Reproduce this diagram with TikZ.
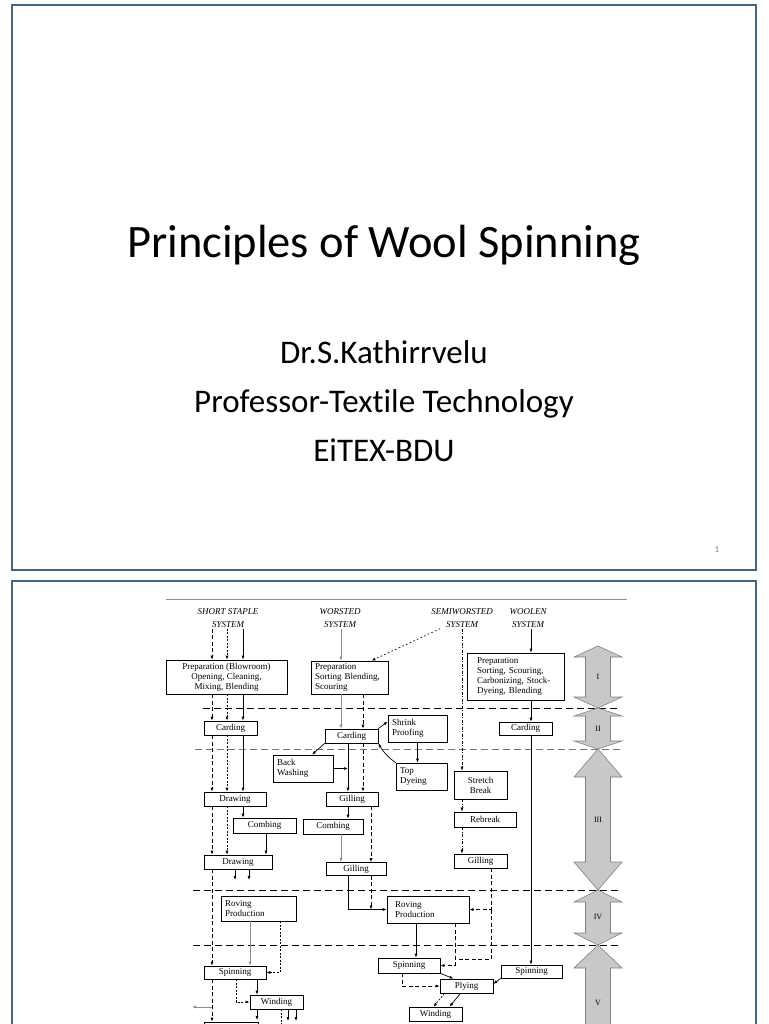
\documentclass[tikz,border=0pt]{standalone}
\usepackage{fontspec}
\setmainfont{Carlito}[Ligatures=NoCommon]
\newfontfamily\dfont{Liberation Serif}
\usepackage{xcolor}
\usepackage{tikz}
\usetikzlibrary{arrows.meta, positioning, calc}

\definecolor{slideframe}{RGB}{66,98,138}
\definecolor{phasefill}{RGB}{200,200,200}

\tikzset{
  box/.style={draw, fill=white, line width=0.7pt, inner xsep=4pt, inner ysep=1pt,
    font=\dfont\fontsize{9}{10}\selectfont},
  lbox/.style={box, align=left, text width=#1},
  hdr/.style={inner sep=1pt, align=center, font=\dfont\itshape\fontsize{9}{13}\selectfont},
  flow/.style={-{Latex[length=4pt,width=3pt]}, line width=0.7pt},
  dsh/.style={dash pattern=on 4pt off 2.5pt},
  fdsh/.style={dash pattern=on 2pt off 1.5pt},
  ddot/.style={dash pattern=on 3pt off 1.5pt on 1pt off 1.5pt},
  dts/.style={dash pattern=on 1.5pt off 2.5pt},
  gline/.style={draw=black!45},
  phasearrow/.style={fill=phasefill, draw=black!50, line width=0.6pt},
}

\begin{document}
\begin{tikzpicture}[x=1pt, y=-1pt]
  \useasboundingbox (0,0) rectangle (768,1024);
  \clip (0,0) rectangle (768,1024);

  % Title slide
  \draw[slideframe, line width=2pt] (12,5) rectangle (756,570);
  \node[anchor=base, font=\fontsize{46.5}{50}\selectfont] (title) at (384,258) {Principles of Wool Spinning};
  \node[anchor=base, font=\fontsize{33}{36}\selectfont] (author) at (384,363) {Dr.S.Kathirrvelu};
  \node[anchor=base, font=\fontsize{33}{36}\selectfont] (post) at (384,412) {Professor-Textile Technology};
  \node[anchor=base, font=\fontsize{33}{36}\selectfont] (inst) at (384,461) {EiTEX-BDU};
  \node[anchor=base, text=black!50, font=\fontsize{9}{10}\selectfont] (pgno) at (717,552) {1};

  % Flow chart slide
  \draw[slideframe, line width=2pt] (12,581) rectangle (756,1060);
  \draw[black!45, line width=0.8pt] (166,599) -- (627,599);

  % lanes and loose ends
  \foreach \x in {212,227,243,236,250,257,266,280,281,288,296,341,348,363,371,402,416,455,462,491,531}
    \coordinate (x\x) at (\x,0);
  \coordinate (outA) at (235,880);
  \coordinate (outB) at (249,880);
  \coordinate (outC) at (192,1007);
  \coordinate (outD) at (257,1020);
  \coordinate (outE) at (281,1030);
  \coordinate (outF) at (288,1021);
  \coordinate (outG) at (296,1021);
  \coordinate (jn) at (491,959);

  % stage boundaries
  \foreach \y/\xs/\col in {708/203/black, 749/195/black!55, 890/193/black, 945/193/black}
    \draw[\col, line width=0.7pt, dash pattern=on 7pt off 4pt] (\xs,\y) -- (620,\y);

  % stage arrows
  \foreach \t/\b/\h/\lab/\ly in {646/708/11/I/677, 708/749/8/II/729, 749/890/28/III/820, 890/945/12/IV/917, 945/1100/23/V/1003} {
    \draw[phasearrow] (598,\t) -- (622,\t+\h) -- (610.5,\t+\h) -- (610.5,\b-\h) -- (622,\b-\h)
      -- (598,\b) -- (574,\b-\h) -- (585.5,\b-\h) -- (585.5,\t+\h) -- (574,\t+\h) -- cycle;
    \node[font=\dfont\fontsize{8}{9}\selectfont] (ph\lab) at (598,\ly) {\lab};
  }

  % system headings
  \node[hdr] (hSS) at (228,618) {SHORT STAPLE\\SYSTEM};
  \node[hdr] (hW) at (340,618) {WORSTED\\SYSTEM};
  \node[hdr] (hSW) at (462,618) {SEMIWORSTED\\SYSTEM};
  \node[hdr] (hWo) at (528,618) {WOOLEN\\SYSTEM};

  % boxes
  \node[box, align=center, minimum width=121pt, minimum height=34pt] (prepSS) at (226.5,677)
    {Preparation (Blowroom)\\Opening, Cleaning,\\Mixing, Blending};
  \node[lbox=69pt, minimum width=77pt, minimum height=33pt] (prepW) at (349.5,677.5)
    {Preparation\\Sorting Blending,\\Scouring};
  \node[lbox=77pt, minimum width=97pt, minimum height=47pt] (prepWo) at (515.5,676.5)
    {Preparation\\Sorting, Scouring,\\Carbonizing, Stock-\\Dyeing, Blending};
  \node[box, minimum width=53pt, minimum height=14pt] (cardSS) at (230.5,728) {Carding};
  \node[box, minimum width=53pt, minimum height=14pt] (cardW) at (351.5,736) {Carding};
  \node[box, minimum width=53pt, minimum height=13pt] (cardWo) at (525.5,728.5) {Carding};
  \node[lbox=51pt, minimum width=59pt, minimum height=27pt] (shrink) at (417.5,728.5) {Shrink\\Proofing};
  \node[lbox=43pt, minimum width=51pt, minimum height=27pt] (topdye) at (421.5,776.5) {Top\\Dyeing};
  \node[lbox=52pt, minimum width=60pt, minimum height=27pt] (backwash) at (303,768.5) {Back\\Washing};
  \node[box, minimum width=62pt, minimum height=14pt] (drawSS1) at (235,799) {Drawing};
  \node[box, minimum width=52pt, minimum height=14pt] (gillW1) at (352,799) {Gilling};
  \node[box, minimum width=63pt, minimum height=15pt] (combSS) at (264.5,825.5) {Combing};
  \node[box, minimum width=60pt, minimum height=15pt] (combW) at (333,826.5) {Combing};
  \node[box, align=center, minimum width=53pt, minimum height=28pt] (stretch) at (480.5,785) {Stretch\\Break};
  \node[box, minimum width=62pt, minimum height=15pt] (rebreak) at (485,819.5) {Rebreak};
  \node[box, minimum width=68pt, minimum height=14pt] (drawSS2) at (238,862) {Drawing};
  \node[box, minimum width=60pt, minimum height=13pt] (gillW2) at (356,869) {Gilling};
  \node[box, minimum width=53pt, minimum height=14pt] (gillS) at (480.5,861) {Gilling};
  \node[lbox=67pt, minimum width=75pt, minimum height=25pt] (rovSS) at (258.5,908.5) {Roving\\Production};
  \node[lbox=66pt, inner xsep=8pt, minimum width=82pt, minimum height=27pt] (rovW) at (428,909.5) {Roving\\Production};
  \node[box, minimum width=62pt, minimum height=13pt] (spinSS) at (235,972.5) {Spinning};
  \node[box, minimum width=62pt, minimum height=15pt] (spinW) at (409,965.5) {Spinning};
  \node[box, minimum width=61pt, minimum height=13pt] (spinWo) at (531.5,971.5) {Spinning};
  \node[box, minimum width=53pt, minimum height=14pt] (plying) at (466.5,986) {Plying};
  \node[box, minimum width=53pt, minimum height=14pt] (windSS) at (276.5,1002) {Winding};
  \node[box, minimum width=53pt, minimum height=14pt] (windW) at (435.5,1014) {Winding};
  \node[box, minimum width=54pt, minimum height=20pt] (nextSS) at (231,1032) {};

  % short staple line
  \foreach \a/\b in {hSS/prepSS, prepSS/cardSS, cardSS/drawSS1} {
    \draw[flow, dsh] (\a.south -| x212) -- (\b.north -| x212);
    \draw[flow, fdsh] (\a.south -| x227) -- (\b.north -| x227);
    \draw[flow] (\a.south -| x243) -- (\b.north -| x243);
  }
  \draw[flow, dsh] (drawSS1.south -| x212) -- (drawSS2.north -| x212);
  \draw[flow, fdsh] (drawSS1.south -| x227) -- (drawSS2.north -| x227);
  \draw[flow] (drawSS1.south -| x243) -- (combSS.north -| x243);
  \draw[flow] (combSS.south -| x266) -- (drawSS2.north -| x266);
  \draw[flow] (drawSS2.south -| outA) -- (outA);
  \draw[flow] (drawSS2.south -| outB) -- (outB);
  \draw[flow, dsh] (drawSS2.south -| x212) -- (spinSS.north -| x212);
  \draw[flow, gline] (rovSS.south -| x250) -- (spinSS.north -| x250);
  \draw[flow, fdsh] (rovSS.south -| x280) -- (x280 |- spinSS.east) -- (spinSS.east);
  \draw[flow] (spinSS.south -| x257) -- (windSS.north -| x257);
  \draw[flow, fdsh] (spinSS.south -| x236) -- (x236 |- windSS.west) -- (windSS.west);
  \draw[flow, dsh] (spinSS.south -| x212) -- (nextSS.north -| x212);
  \draw[flow, gline] (x212 |- outC) -- (outC);
  \draw[flow] (windSS.south -| outD) -- (outD);
  \draw[fdsh, line width=0.7pt] (windSS.south -| outE) -- (outE);
  \draw[flow] (windSS.south -| outF) -- (outF);
  \draw[flow] (windSS.south -| outG) -- (outG);

  % worsted line
  \draw[flow, gline] (hW.south -| x341) -- (prepW.north -| x341);
  \draw[flow, dts] ([xshift=-22pt]hSW.south) -- ([xshift=22pt]prepW.north);
  \draw[flow, gline] (prepW.south -| x341) -- (cardW.north -| x341);
  \draw[flow, dsh] (prepW.south -| x363) -- (cardW.north -| x363);
  \draw[flow] (cardW.north east) -- ([yshift=7pt]shrink.west);
  \draw[flow] (shrink.south) -- (shrink.south |- topdye.north);
  \draw[flow] (topdye.north west) to[bend left=12] (cardW.south east);
  \draw[flow] (cardW.south west) -- ([xshift=9pt]backwash.north);
  \draw[flow] (backwash.east) -- (backwash.east -| x348);
  \draw[flow] (cardW.south -| x348) -- (gillW1.north -| x348);
  \draw[flow, dsh] (cardW.south -| x363) -- (gillW1.north -| x363);
  \draw[flow] (gillW1.south -| x348) -- (combW.north -| x348);
  \draw[flow, dsh] (gillW1.south -| x371) -- (gillW2.north -| x371);
  \draw[flow, gline] (combW.south -| x341) -- (gillW2.north -| x341);
  \draw[flow] (gillW2.south -| x348) -- (x348 |- rovW.west) -- (rovW.west);
  \draw[flow, dsh] (gillW2.south -| x371) -- (x371 |- rovW.west);
  \draw[flow] (rovW.south -| x416) -- (spinW.north -| x416);
  \draw[flow, dsh] (rovW.south -| x455) -- (x455 |- spinW.east) -- (spinW.east);
  \draw[flow] (spinW.south east) -- ([xshift=-13pt]plying.north);
  \draw[flow, dsh] (spinW.south -| x402) -- (x402 |- plying.west) -- (plying.west);

  % semiworsted line
  \draw[flow, ddot] (hSW.south) -- (hSW.south |- stretch.north);
  \draw[flow, ddot] (stretch.south -| x462) -- (rebreak.north -| x462);
  \draw[flow, ddot] (rebreak.south -| x462) -- (gillS.north -| x462);
  \draw[flow, dsh] (gillS.south -| x491) -- (x491 |- rovW.east) -- (rovW.east);
  \draw[dsh, line width=0.7pt] (x491 |- rovW.east) -- (jn) -- (jn -| x455);

  % woolen line
  \draw[flow] (hWo.south -| x531) -- (prepWo.north -| x531);
  \draw[flow] (prepWo.south -| x531) -- (cardWo.north -| x531);
  \draw[flow] (cardWo.south -| x531) -- (spinWo.north -| x531);
  \draw[flow] (spinWo.south west) -- ([yshift=2pt]plying.east);
  \draw[flow, fdsh] ([xshift=-22pt]plying.south) -- ([xshift=-2pt]windW.north);
  \draw[flow] ([xshift=-6pt]plying.south) -- ([xshift=14pt]windW.north);
\end{tikzpicture}
\end{document}
